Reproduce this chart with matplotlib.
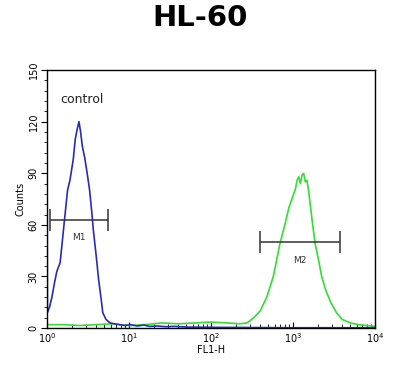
import matplotlib
matplotlib.use("Agg")
import matplotlib.pyplot as plt
import numpy as np

# Control (blue) histogram: log10(FL1-H) positions and counts
blue_logx = [0.0, 0.0, 0.005, 0.03, 0.06, 0.09, 0.12, 0.16, 0.19, 0.22, 0.25, 0.28, 0.30,
             0.32, 0.345, 0.37, 0.39, 0.41, 0.43, 0.46, 0.49, 0.52, 0.545, 0.565, 0.60,
             0.63, 0.66, 0.68, 0.72, 0.77, 0.82, 0.88, 0.95, 1.02, 1.10, 1.18, 1.25,
             1.35, 1.45, 1.55, 1.7, 1.9, 2.2, 2.6, 3.0, 3.5, 4.0]
blue_counts = [0, 125, 9, 12, 18, 26, 33, 38, 52, 66, 80, 86, 92,
               98, 110, 116, 120, 114, 106, 99, 90, 80, 68, 57, 42,
               28, 17, 9, 5, 3, 2.5, 2, 1.5, 2, 1.2, 1.8, 1,
               1.2, 0.8, 1, 0.6, 0.5, 0.4, 0.3, 0.2, 0.2, 0.2]

# Sample (green) histogram
green_logx = [0.0, 0.2, 0.4, 0.6, 0.8, 1.0, 1.2, 1.4, 1.6, 1.8, 2.0, 2.2, 2.35, 2.44,
              2.52, 2.6, 2.68, 2.76, 2.84, 2.90, 2.95, 3.0, 3.03, 3.05, 3.07, 3.09,
              3.11, 3.13, 3.15, 3.17, 3.19, 3.21, 3.24, 3.27, 3.31, 3.35, 3.40, 3.46,
              3.53, 3.60, 3.70, 3.80, 3.90, 4.0]
green_counts = [2, 2, 1.5, 2, 2.5, 1.5, 2, 3, 2.5, 3, 3.5, 3, 2.5, 3,
                6, 10, 18, 30, 49, 60, 70, 77, 81, 86, 88, 84,
                89, 90, 85, 86, 80, 72, 60, 49, 40, 30, 22, 15,
                9, 5, 3, 2, 1.5, 1]

# Gate markers
marker_names = ["M1", "M2"]
marker_start = [1.1, 400]
marker_end = [5.5, 3700]
marker_level = [63, 50]

y_ticks = [0, 30, 60, 90, 120, 150]
x_ticks = [1, 10, 100, 1000, 10000]
x_ticklabels = [r"$10^0$", r"$10^1$", r"$10^2$", r"$10^3$", r"$10^4$"]

fig = plt.figure(figsize=(4.0, 3.67), dpi=100)
ax = fig.add_axes([0.1175, 0.106, 0.82, 0.703])

ax.plot(10 ** np.array(green_logx), green_counts, color="#33dd33", lw=1.2)
ax.plot(10 ** np.array(blue_logx), blue_counts, color="#2a2ab8", lw=1.2)

for name, s, e, lv in zip(marker_names, marker_start, marker_end, marker_level):
    ax.hlines(lv, s, e, color="#333333", lw=1.1)
    ax.vlines([s, e], lv - 6.5, lv + 6.5, color="#333333", lw=1.1)
    ax.text(np.sqrt(s * e), lv - 8, name, ha="center", va="top", fontsize=6.5,
            color="#333333")

ax.text(1.45, 133, "control", fontsize=9, ha="left", va="center", color="#222222")

ax.set_xscale("log")
ax.set_xlim(1, 10000)
ax.set_ylim(0, 150)
ax.set_xticks(x_ticks)
ax.set_xticklabels(x_ticklabels, fontsize=7)
ax.set_yticks(y_ticks)
ax.set_yticklabels([str(t) for t in y_ticks], fontsize=7, rotation=90, va="center")
ax.yaxis.set_minor_locator(matplotlib.ticker.MultipleLocator(6))
ax.tick_params(axis="x", which="both", direction="in", length=3, pad=2)
ax.tick_params(axis="x", which="major", length=4)
ax.tick_params(axis="y", which="major", direction="out", length=4, pad=2)
ax.tick_params(axis="y", which="minor", direction="out", length=2)
ax.set_xlabel("FL1-H", fontsize=7, labelpad=0)
ax.set_ylabel("Counts", fontsize=7, labelpad=2)
for sp in ax.spines.values():
    sp.set_linewidth(1.0)

fig.text(0.5, 0.951, "HL-60", ha="center", va="center", fontsize=21,
         fontweight="bold", family="DejaVu Sans")

fig.savefig("out.png", dpi=100)
